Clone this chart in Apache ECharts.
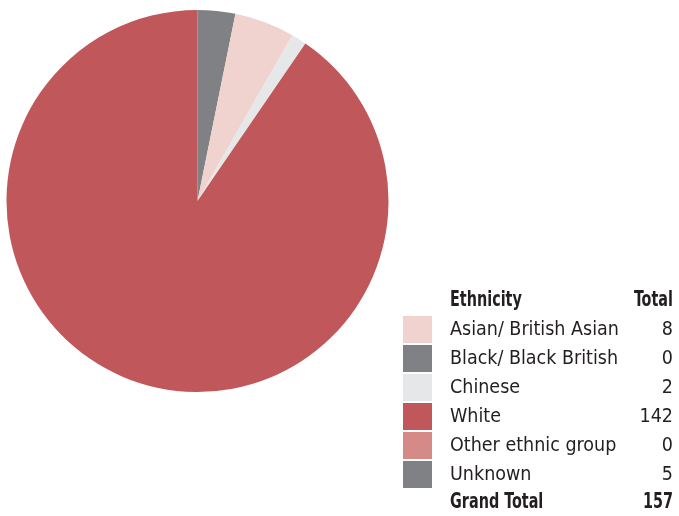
<!DOCTYPE html>
<html>
<head>
<meta charset="utf-8">
<script src="https://cdn.jsdelivr.net/npm/echarts@6/dist/echarts.min.js"></script>
<style>html,body{margin:0;padding:0;background:#fff}#c{width:679px;height:516px}</style>
</head>
<body>
<div id="c"></div>
<script>
const categories = ['Asian/ British Asian', 'Black/ Black British', 'Chinese', 'White', 'Other ethnic group', 'Unknown'];
const values = [8, 0, 2, 142, 0, 5];
const colors = ['#f0d3cf', '#808184', '#e6e7e8', '#c0575b', '#d58a88', '#808184'];
const pieOrder = [5, 0, 1, 2, 3, 4];
const headerLabels = ['Ethnicity', 'Total'];
const totalLabel = 'Grand Total';

const total = values.reduce((a, b) => a + b, 0);
const FONT = '"DejaVu Sans Condensed", sans-serif';
const FS = 19.5;

function boldText(txt, x, y, align) {
  return {
    type: 'text', x: x, y: y, scaleX: 0.8, scaleY: 1.05,
    style: { x: 0, y: 0, text: txt, font: 'bold 20px ' + FONT, fill: '#231f20', align: align, verticalAlign: 'middle' }
  };
}

const chart = echarts.init(document.getElementById('c'));
chart.setOption({
  animation: false,
  legend: {
    orient: 'vertical',
    left: 403,
    top: 316,
    padding: 0,
    itemWidth: 29,
    itemHeight: 27,
    itemGap: 2,
    icon: 'rect',
    selectedMode: false,
    data: categories,
    formatter: function (name) {
      const i = categories.indexOf(name);
      return '{n|' + name + '}{v|' + values[i] + '}';
    },
    textStyle: {
      fontFamily: FONT,
      fontSize: FS,
      color: '#231f20',
      rich: {
        n: { fontFamily: FONT, fontSize: FS, color: '#231f20', width: 196, padding: [0, 0, 0, 13] },
        v: { fontFamily: FONT, fontSize: FS, color: '#231f20', width: 27, align: 'right' }
      }
    }
  },
  graphic: [
    boldText(headerLabels[0], 450, 301, 'left'),
    boldText(headerLabels[1], 673, 301, 'right'),
    boldText(totalLabel, 450, 503, 'left'),
    boldText(String(total), 673, 503, 'right')
  ],
  series: [{
    type: 'pie',
    center: [197.5, 201],
    radius: [0, 191],
    startAngle: 90,
    clockwise: true,
    label: { show: false },
    labelLine: { show: false },
    emphasis: { disabled: true },
    itemStyle: { borderWidth: 0 },
    data: pieOrder.map(i => ({ name: categories[i], value: values[i], itemStyle: { color: colors[i] } }))
  }]
});
</script>
</body>
</html>
